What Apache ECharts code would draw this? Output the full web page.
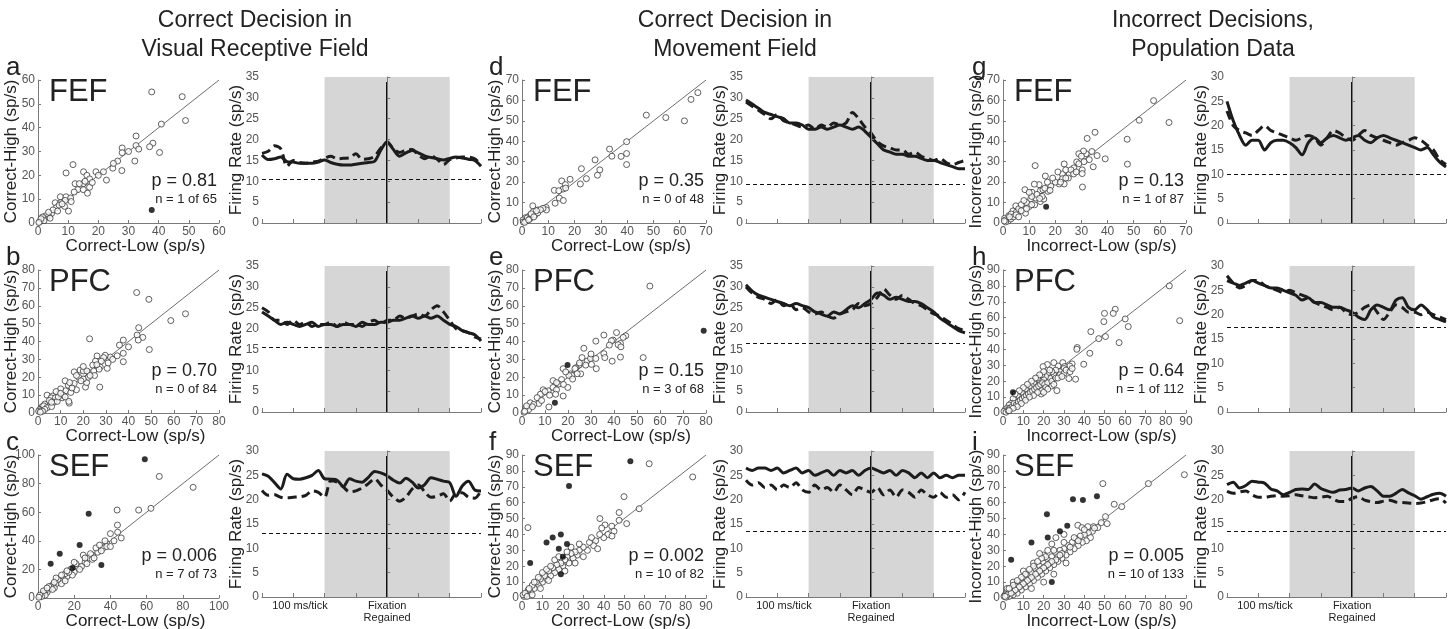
<!DOCTYPE html>
<html>
<head>
<meta charset="utf-8">
<script src="https://cdn.jsdelivr.net/npm/echarts@6/dist/echarts.min.js"></script>
<style>
  html, body { margin: 0; padding: 0; background: #fff; }
  #chart { width: 1455px; height: 629px; }
</style>
</head>
<body>
<div id="chart"></div>
<script>
// ---- data ----
const panelLetters = ['a', 'b', 'c', 'd', 'e', 'f', 'g', 'h', 'i'];
const regions = ['FEF', 'PFC', 'SEF', 'FEF', 'PFC', 'SEF', 'FEF', 'PFC', 'SEF'];
const columnTitles = [
  ['Correct Decision in', 'Visual Receptive Field'],
  ['Correct Decision in', 'Movement Field'],
  ['Incorrect Decisions,', 'Population Data']
];
const xNames = ['Correct-Low (sp/s)', 'Correct-Low (sp/s)', 'Incorrect-Low (sp/s)'];
const yNames = ['Correct-High (sp/s)', 'Correct-High (sp/s)', 'Incorrect-High (sp/s)'];
const pLabels = ['p = 0.81', 'p = 0.70', 'p = 0.006', 'p = 0.35', 'p = 0.15', 'p = 0.002', 'p = 0.13', 'p = 0.64', 'p = 0.005'];
const nLabels = ['n = 1 of 65', 'n = 0 of 84', 'n = 7 of 73', 'n = 0 of 48', 'n = 3 of 68', 'n = 10 of 82', 'n = 1 of 87', 'n = 1 of 112', 'n = 10 of 133'];
const scatterMax = [60, 80, 100, 70, 80, 90, 70, 90, 90];
const scatterStep = [10, 10, 20, 10, 10, 10, 10, 10, 10];
const rateMax = [35, 35, 30, 35, 35, 30, 30, 30, 30];
const baselines = [10.5, 15.5, 13, 9.3, 16.5, 13.5, 10, 17.5, 13.5];
const significant = [false, false, true, false, false, true, false, false, true];

const aOpen = [[37.7,55],[47.8,53],[48.9,43],[40.9,41.5],[32.5,36.5],[38.1,33.5],[37,32],[40.3,29.6],[32.5,32.5],[33.4,31],[27.9,31.5],[27.9,29.5],[30,30],[26.4,26],[32.1,26],[24.8,23],[27.8,22],[21.7,21.5],[19.2,21.5],[22.7,18],[15.1,21.5],[11.6,24.5],[9.3,21],[16.2,20],[15,16.5],[12.3,16.5],[13.7,16.5],[17.1,18.5],[15.6,17.5],[17.1,15],[13.2,14],[15,14],[16.4,12.5],[7.4,11],[9.3,11],[10.8,10.5],[9,9.5],[5.7,8.5],[7.5,8.5],[10.1,5],[6.1,6.5],[8.8,7],[4.5,4],[5,5.5],[3.5,3],[3,2.5],[2.5,3],[2,2],[1.5,2.5],[1,1],[0.5,0.5],[2,1],[3.5,4.5],[6.5,5],[4,2],[1,1.8],[0.3,0.2],[7,7.5],[8,8],[11,9],[12,13],[18,17],[20,20],[25,25]];
const aFilled = [[37.7,5.5]];
const bOpen = [[43.6,67.4],[49,63.6],[65.2,55.5],[58.7,51.7],[44.5,47.7],[43.8,43.6],[46.3,42.3],[44.3,40.8],[49.2,35.5],[37.7,40.8],[22.8,41.5],[37.7,33.4],[37.7,28.7],[32,31.3],[29.7,32.3],[26.1,31.9],[29,31],[25.4,29],[24.2,26.8],[27.5,25.7],[18.6,24],[16,23],[20,23.5],[22.7,22.5],[21.6,23.5],[27,24.5],[30.6,25],[24.6,23.5],[16,16.5],[21,14.5],[21.5,17],[22.3,20],[27.3,14.5],[13.4,15.5],[12.2,12.4],[14.5,11.5],[10,13.5],[13.8,5.5],[13.6,6.5],[9.2,11],[6.5,9.5],[4,10],[5.8,8.5],[7.7,8.5],[10.7,8.5],[7,6],[4.8,5.5],[3,5],[1.8,3.5],[0.8,2],[0.3,1],[2.5,4],[4,3],[6,3.6],[8.5,6.5],[1.3,1.3],[18,20],[20,19],[12,18],[8,12],[5,7],[25,21],[17,13],[19,18],[15,14],[11,10],[9,9],[6,6],[3,2],[2,1],[1,0.5],[14,17],[23,21],[26,27],[28,29],[31,28],[33,30],[35,32],[36,38],[40,37],[20,26],[17,21],[12,9],[10,11]];
const bFilled = [];
const cOpen = [[43.7,61.5],[43.9,51],[55.6,61.5],[62.4,62.7],[67,85],[85.7,77.4],[40,45],[42,40],[38,38],[36,35],[33,32],[30,30],[28,28],[26,25],[25,30],[22,22],[20,18],[18,20],[16,15],[15,17],[14,13],[12,12],[10,10],[8,9],[6,6],[5,4],[4,5],[3,3],[2,2],[1,1],[35,33],[38,36],[30,27],[27,24],[24,22],[21,24],[19,16],[17,18],[13,10],[11,13],[9,7],[7,8],[44,46],[46,42],[32,35],[29,31],[23,20],[20,25],[15,12],[10,14],[9,11],[6,8],[4,2],[3,5],[2,1],[1,2],[40,36],[37,40],[31,28],[34,37],[26,28],[16,19],[13,16],[8,6],[5,7],[0.5,0.5]];
const cFilled = [[59,97],[28,59],[7,24],[12,31],[19,21],[23,37],[35,23]];
const dOpen = [[66.9,63.8],[64.3,60.5],[61.8,50],[54.7,51.6],[47.3,52.8],[39.8,39.8],[39.8,34],[37.7,32.6],[39.8,28.6],[33.3,36.2],[34.2,32.7],[27.8,30.9],[29.6,26],[28.7,23.4],[22.6,26.6],[24.5,21.7],[22.2,19.1],[18.3,21.4],[15.1,20.6],[16.5,18.8],[15.6,16.6],[16.6,17.1],[12.3,16],[14,15.8],[14.2,12.2],[15.7,11],[12.6,9.7],[9.2,7.6],[9.3,6.4],[8,7.2],[6.1,6.4],[4.3,5.6],[4.1,8.4],[2.9,3.6],[1.3,2.6],[0.4,1.5],[0.5,0.5],[1.5,1],[2,2.5],[3,2],[5,4],[6,5],[3.5,4.5],[1,0.3],[2.5,1.5],[4.5,3],[7,6.5],[5.5,6]];
const dFilled = [];
const eOpen = [[55.6,71],[52.7,31],[45.1,43.2],[41.1,45],[39.6,40.8],[42.8,38.9],[44,42.3],[41.8,38.2],[43,37],[35.6,43.6],[38.9,40.4],[35.6,33.2],[39.2,29],[42.8,31.3],[32.1,40.2],[26.9,36.2],[26.1,31],[28.3,29],[29.8,30.5],[32.1,30.5],[30.2,27.2],[27.7,26.8],[24.8,26.8],[23.4,25.3],[17.9,24.8],[21.1,21.9],[23,24.8],[25.5,21.9],[32.3,24.8],[21.8,21],[17.2,18.7],[20.4,21],[16,16.2],[13.5,18.1],[13.5,14.3],[15,13],[11.4,12.4],[9.2,13],[8,10.5],[6.6,8.6],[3.6,5.7],[1.7,2.9],[0.9,0.4],[7.3,5.3],[11.7,3.4],[14.6,10.5],[17.9,9.5],[19.9,14.3],[2.9,1.9],[5.1,4.8],[1.2,1],[10,12],[12,10],[8.5,7],[4.5,3.5],[2,4],[18,16],[22,19],[25,28],[30,33],[36,31],[38,38],[24,22],[15,17],[19,23]];
const eFilled = [[79,46],[19.8,26.8],[14.3,5.7]];
const fOpen = [[62.2,84.5],[83.5,76.2],[49.9,63.8],[57.3,56.2],[38.1,50],[40.6,46],[43.9,45.2],[47.5,48.9],[47.5,53.8],[51.2,46.8],[2.9,44.3],[45,42],[42,40],[40,38],[38,40],[36,36],[35,33],[33,35],[32,30],[30,32],[28,30],[27,27],[26,29],[25,25],[24,28],[23,22],[22,26],[21,24],[20,20],[19,22],[18,18],[17,21],[16,16],[15,19],[14,14],[13,17],[12,12],[11,14],[10,10],[9,12],[8,8],[7,10],[6,6],[5,8],[4,4],[3,5],[2,2],[1,1],[0.5,2],[1.5,3],[2.5,1],[3.5,6],[6,10],[8,13],[10,16],[12,18],[14,20],[16,24],[18,26],[22,29],[24,32],[26,22],[28,34],[30,26],[34,38],[37,31],[39,44],[44,39],[21,17],[13,11],[9,6],[5,2]];
const fFilled = [[53,86],[23,70.5],[4,22],[12,35],[15,38],[19,40],[18,31],[20,26],[19,15],[22,34]];
const gOpen = [[57.6,59.9],[63.5,49.2],[52.1,50.3],[47.5,41],[47.6,28.8],[39.1,31.4],[35.2,44.4],[32.2,41.4],[31.8,33.9],[30.8,35.2],[29,33.9],[30,32.7],[28.2,29.9],[34.5,27.5],[30.3,26],[30.3,24.2],[30.4,17.6],[27.1,27],[25.3,24],[23.4,28.9],[22.7,24],[22.7,21.7],[23.4,19.1],[21.5,19.1],[18.3,18.1],[16.2,23],[12.3,28.1],[13.8,18.8],[8.4,16.3],[11.1,15],[14.3,15.8],[15.3,16.3],[17.2,15.5],[10.6,11.8],[12.5,12.2],[14.3,10.5],[15.6,11.7],[12.1,8.9],[10.1,8.1],[8.6,4.8],[4.9,8.4],[3.8,5.9],[5.1,5.3],[2.2,3.6],[3.1,4.4],[0.6,2.3],[6,7],[7,9],[9,10],[11,13],[13,14],[10,15],[8,11],[12,19],[15,13],[17,20],[20,20],[19,22],[24,26],[26,26],[21,25],[2,1],[1,1.5],[3,2],[4,3],[5,4],[1,0.5],[0.5,1],[2.5,3],[6,3],[7,6],[9,7],[11,9],[14,12],[16,17],[18,16],[25,22],[27,24],[33,31],[34,35],[36,33],[29,29],[31,30],[28,25],[24,22],[22,20]];
const gFilled = [[16.5,7.9]];
const hOpen = [[81.8,80],[86.9,58.1],[60.1,59.2],[61.6,54.4],[57.1,44.3],[55.2,65.3],[54.2,62.7],[49.9,62.7],[49.6,57.5],[50.4,48.1],[47.1,46.8],[43.2,51.2],[42.7,37.6],[39.7,30.7],[36.5,41.2],[36.3,40.1],[34,30.9],[29.4,31.7],[27.1,29.6],[25,31.7],[21.8,30.5],[19.7,29.2],[32.8,29.6],[30.2,29.2],[32.4,21.7],[35.7,21.3],[26.5,14.1],[18.8,12],[12.8,15.9],[30,28],[28,26],[26,27],[25,24],[24,26],[23,22],[22,25],[21,23],[20,21],[19,24],[18,20],[17,22],[16,18],[15,19],[14,17],[13,16],[12,14],[11,15],[10,12],[9,13],[8,10],[7,11],[6,8],[5,9],[4,6],[3,5],[2,3],[1,2],[0.5,1],[1.5,0.5],[2.5,1.5],[3.5,3],[4.5,4],[5.5,6],[6.5,5],[7.5,7],[8.5,8],[9.5,9],[10.5,10],[11.5,11],[12.5,12],[13.5,13],[14.5,14],[15.5,15],[16.5,16],[17.5,17],[18.5,18],[19.5,19],[20.5,18],[22,19],[24,20],[26,22],[28,24],[30,25],[31,27],[33,26],[34,28],[23,27],[20,26],[18,24],[16,22],[14,20],[12,18],[10,16],[8,14],[6,12],[21,16],[19,14],[17,13],[15,11],[13,10],[11,8],[9,6],[7,4],[5,3],[3,1.5],[27,22],[29,23],[24,17],[22,15],[25,18],[20,13]];
const hFilled = [[4.9,13]];
const iOpen = [[49.1,72],[54.7,59],[58.4,57.5],[71.5,72],[89.2,77.6],[50.4,51.2],[48.3,47.4],[51.2,46.8],[36.8,45.8],[38.8,44.3],[41.7,44.9],[44.5,44.9],[46.6,44.3],[44,42],[42,41],[40,40],[38,39],[36,37],[34,35],[32,33],[30,31],[28,30],[26,28],[24,26],[22,24],[20,22],[18,20],[16,18],[14,16],[12,14],[10,12],[8,10],[6,8],[4,6],[2,4],[1,2],[0.5,1],[43,38],[41,36],[39,35],[37,33],[35,31],[33,29],[31,27],[29,25],[27,23],[25,21],[23,19],[21,17],[19,15],[17,13],[15,11],[13,9],[11,7],[9,5],[7,3],[5,2],[3,1],[1.5,0.5],[45,44],[40,43],[35,38],[30,35],[25,30],[20,27],[15,22],[10,17],[5,10],[2,6],[37,36],[33,32],[29,28],[27,26],[23,22],[21,20],[19,18],[17,16],[13,12],[11,10],[9,8],[7,6],[5,4],[3,3],[2,2],[1,1],[28,27],[26,24],[24,23],[22,21],[20,19],[18,17],[16,15],[14,13],[12,11],[10,9],[8,7],[6,5],[4,3],[21,26],[19,25],[17,23],[15,20],[13,18],[11,15],[9,13],[7,11],[5,8],[3,6],[22,30],[18,28],[24,34],[26,38],[30,40],[14,6],[20,10],[25,15],[31,22]];
const iFilled = [[21.6,52.7],[31.6,45.4],[34.4,62.1],[39.3,61.7],[46.2,64],[4,24],[24,10],[22,38],[14,35],[28,42]];

// time axis of the firing-rate panels, ms relative to fixation regained
const tMs = [-400,-380,-360,-340,-320,-300,-280,-260,-240,-220,-200,-180,-160,-140,-120,-100,-80,-60,-40,-20,0,20,40,60,80,100,120,140,160,180,200,220,240,260,280,300];
const aSolid  = [16.3,15.2,15.4,15.8,14.7,14.6,14.3,14.3,14.3,14.6,15.1,14.5,14.1,13.9,13.9,14.1,14.3,14.5,14.8,17.5,19.5,17.6,16,16.8,17.4,16.8,16.1,15.7,15.4,15.1,15.5,15.8,15.6,15.3,15,13.6];
const aDashed = [16.7,17.2,18.5,17.8,13.6,15,14.5,14.3,14.6,14.8,15.5,16,15.4,15.5,15.6,16.6,15.3,15.4,16,18,19.3,17.8,16.9,17.5,17.6,16.3,15.4,16.1,15.3,14,15.2,15.6,15.8,15.8,15.4,14];
const bSolid  = [24,23,22,21,21.5,21,20.5,21,21.5,20.5,21,21,20.5,21,21,20.5,21.5,21,21,21.5,21.5,22,22,22.5,23,22.5,23,22.5,23,22,21,20.5,19.5,19,18.5,17];
const bDashed = [25,24,22,22,21,22,21,21.5,20.5,21,21,21.5,20.5,21.5,21,21,20.5,21.5,22,21,22,22,23,22.5,23,23.5,23,24.5,25.5,24,22,20,19.5,19,18,17.5];
const cSolid  = [25.3,24.8,23.5,22.2,25.2,24.3,24.2,24.5,25,26,24.3,24.2,24,22.7,24.3,23.8,23.6,24.6,25.8,25.5,24.9,24,23.4,24.4,23.6,22.4,23.1,24.5,24.2,23.8,23.5,20.7,22.8,23.8,22,21.8];
const cDashed = [21.9,20.9,21,20.5,20.4,20.5,20.6,20.9,21.8,21.5,20.5,23.9,23.6,22.6,21.6,21.8,22.4,23.3,24.3,23,21.9,20.5,19.7,20.5,22.2,23,21.6,20.5,20.7,21.2,19.7,21.3,21.4,20.5,20.3,21.8];
const dSolid  = [29.5,28.5,27.5,26.5,26,25.5,25,24,24,23.5,22.5,22.5,23,22.5,23,23.5,23,22.5,23,22,20.5,19,17.5,17,16.5,16.5,16,16,15.5,15,15,14.5,14,13.5,13,13];
const dDashed = [29,28,27,26,25,26,24.5,24,23.5,23,23.5,22.5,23.5,23,24,23.5,24,26.5,25,23,21.5,19.5,18.5,18,17.5,17.5,16.5,17,16,15.5,15,15.5,14.5,14,14.5,15];
const eSolid  = [30.5,29,28,27.5,27,26.5,26,25.5,26,25.5,25,24,23.5,23,24,23.5,24.5,25.5,25,26,27,28.5,28,27,27.5,27,26.5,26.5,26,25,24,22.5,21.5,20.5,19.5,19];
const eDashed = [30,28.5,27.5,27,26,27,25.5,26,24.5,25,24,23.5,24,23,22.5,23.5,24,24.5,26,25.5,26,27.5,29.5,28,27,28,27,26,25.5,24.5,23.5,23,22,21,20,19.5];
const fSolid  = [26.5,26,26.5,26.5,26,26.5,25.5,26,26.5,25.5,26,25,25.5,26,25,26,25.5,26,25,26,26.5,26,25.5,26,25,26,25.5,24.5,25.5,24.5,25.5,24.5,25,24.5,25,25];
const fDashed = [24,23,23.5,22.5,23,22,23,22.5,23.5,22,21.5,23,22,22.5,21.5,23,22,21,22.5,22,21.5,22.5,21,22,20.5,22,21.5,20.5,22,21,20.5,21.5,20.5,21,20,21.5];
const gSolid  = [25,21,18,16,17,17,15,16.5,17,17,16.5,15.5,14,16.5,17.5,16.5,17.5,18,17.5,17,17.5,18,17,16.5,17.5,18,17.5,17,16.5,16,15.5,15,15.5,14,12.5,11.5];
const gDashed = [23,20,19,18.5,18,19,20,19,18.5,18,17.5,17,17.5,18,17.5,16,17.5,19,18.5,17.5,17,18,19,18,17.5,17,16.5,16,16.5,17,17.5,17,16,15,13,12];
const hSolid  = [27,26.5,26,26.5,27,26.5,26,25.5,25.5,25,24.5,24,23,23.5,22.5,22.5,22,21.5,21.5,21,20.5,19.5,19,21,22,21.5,21,23,23.5,21.5,21,22,21,19.5,19,18.5];
const hDashed = [28,26.5,25.5,26,27,27,26,25.5,25,24.5,25,24.5,24,23.5,22.5,22,21.5,21,21.5,20.5,20,20.5,21.5,22,20.5,19,20.5,22,21.5,20.5,20.5,20,20.5,20,19.5,19];
const iSolid  = [23.1,23.6,22.4,22.9,23.8,23.6,23.4,22.2,21.8,21,21.5,22.1,22.2,22.1,23.2,22.3,21.8,21.5,22,22.1,22.4,21.8,22.4,22.7,21.8,20.7,20.7,21.3,22.1,21.4,20.8,20.1,20.6,21.1,21.3,20.7];
const iDashed = [21.7,21.3,21.6,21.8,21,20.5,20.5,20.7,20.8,20.7,20.8,21,20.8,20.6,20.4,20.5,20.7,20.1,19.6,19.6,20.3,20.6,19.9,19.6,19.4,19.7,19.9,19.5,19.4,19.3,19.2,19.3,19.6,20,20.2,19.3];

const openPts = [aOpen, bOpen, cOpen, dOpen, eOpen, fOpen, gOpen, hOpen, iOpen];
const filledPts = [aFilled, bFilled, cFilled, dFilled, eFilled, fFilled, gFilled, hFilled, iFilled];
const solidRates = [aSolid, bSolid, cSolid, dSolid, eSolid, fSolid, gSolid, hSolid, iSolid];
const dashedRates = [aDashed, bDashed, cDashed, dDashed, eDashed, fDashed, gDashed, hDashed, iDashed];

// ---- layout ----
const FONT = '"Liberation Sans", Arial, sans-serif';
const scatLeft = [38, 522, 1003], scatRight = [219, 706, 1186];
const timeLeft = [262, 746, 1227], timeRight = [481, 965, 1446];
const scatTop = [80, 270, 455], scatBot = [223, 413, 598];
const timeTop = [77, 266, 451], timeBot = [223, 412, 597];
const colCenter = [255, 735, 1213];
const letterX = [6, 489, 972];

const grids = [], xAxes = [], yAxes = [], series = [], graphics = [];
const axisCommon = {
  axisLine: { lineStyle: { color: '#7a7a7a', width: 1 } },
  axisTick: { inside: true, length: 3, lineStyle: { color: '#7a7a7a' } },
  splitLine: { show: false },
  axisLabel: { fontFamily: FONT, fontSize: 12, color: '#555', margin: 3 }
};
function text(x, y, str, font, align, extra) {
  graphics.push(Object.assign({
    type: 'text', x: x, y: y, silent: true,
    style: { text: str, font: font, fill: '#222', align: align || 'left', verticalAlign: 'middle' }
  }, extra || {}));
}
const pairs = (xs, ys) => xs.map((t, i) => [t, ys[i]]);

columnTitles.forEach((t, c) => {
  text(colCenter[c], 21, t[0], '23px ' + FONT, 'center');
  text(colCenter[c], 50, t[1], '23px ' + FONT, 'center');
});

for (let k = 0; k < 9; k++) {
  const c = Math.floor(k / 3), r = k % 3;
  const m = scatterMax[k], st = scatterStep[k];
  // scatter panel
  const gs = grids.length;
  grids.push({ left: scatLeft[c], top: scatTop[r], width: scatRight[c] - scatLeft[c], height: scatBot[r] - scatTop[r] });
  xAxes.push(Object.assign({}, axisCommon, { type: 'value', gridIndex: gs, min: 0, max: m, interval: st }));
  yAxes.push(Object.assign({}, axisCommon, { type: 'value', gridIndex: gs, min: 0, max: m, interval: st }));
  series.push({ type: 'line', xAxisIndex: gs, yAxisIndex: gs, data: [[0, 0], [m, m]], symbol: 'none', silent: true,
    lineStyle: { color: '#6e6e6e', width: 1 }, z: 1 });
  series.push({ type: 'scatter', xAxisIndex: gs, yAxisIndex: gs, data: openPts[k], symbol: 'circle', symbolSize: 6,
    itemStyle: { color: '#fff', borderColor: '#3a3a3a', borderWidth: 1 }, z: 2 });
  series.push({ type: 'scatter', xAxisIndex: gs, yAxisIndex: gs, data: filledPts[k], symbol: 'circle', symbolSize: 6,
    itemStyle: { color: '#000' }, clip: false, z: 3 });

  // firing rate panel
  const gt = grids.length;
  const ym = rateMax[k];
  grids.push({ left: timeLeft[c], top: timeTop[r], width: timeRight[c] - timeLeft[c], height: timeBot[r] - timeTop[r] });
  xAxes.push(Object.assign({}, axisCommon, { type: 'value', gridIndex: gt, min: -400, max: 300, interval: 100, z: 5,
    axisLabel: { show: false }, axisTick: { inside: true, length: 4, lineStyle: { color: '#7a7a7a' } } }));
  yAxes.push(Object.assign({}, axisCommon, { type: 'value', gridIndex: gt, min: 0, max: ym, interval: 5, z: 5 }));
  series.push({ type: 'line', xAxisIndex: gt, yAxisIndex: gt, data: pairs(tMs, solidRates[k]), symbol: 'none', silent: true,
    lineStyle: { opacity: 0 }, z: 1,
    markArea: { silent: true, itemStyle: { color: '#d6d6d6' }, data: [[{ xAxis: -200 }, { xAxis: 200 }]] },
    markLine: { silent: true, symbol: 'none', label: { show: false },
      data: [
        { yAxis: baselines[k], lineStyle: { color: '#111', width: 1, type: [4, 3] } },
        [{ coord: [0, 0], lineStyle: { color: '#111', width: 2, type: 'solid' } }, { coord: [0, ym * 0.965] }]
      ] } });
  series.push({ type: 'line', xAxisIndex: gt, yAxisIndex: gt, data: pairs(tMs, dashedRates[k]), symbol: 'none', smooth: 0.3,
    lineStyle: { color: '#1c1c1c', width: 3, type: [9, 5] }, z: 3 });
  series.push({ type: 'line', xAxisIndex: gt, yAxisIndex: gt, data: pairs(tMs, solidRates[k]), symbol: 'none', smooth: 0.3,
    lineStyle: { color: '#1c1c1c', width: 3 }, z: 4 });

  // texts
  text(letterX[c], scatTop[r] - 12, panelLetters[k], '26px ' + FONT, 'left');
  text(scatLeft[c] + 11, scatTop[r] + 12, regions[k], '31px ' + FONT, 'left');
  text(scatRight[c] - 2, scatBot[r] - 42, pLabels[k], '18px ' + FONT, 'right');
  text(scatRight[c] - 2, scatBot[r] - 24, nLabels[k], '13px ' + FONT, 'right');
  text((scatLeft[c] + scatRight[c]) / 2 + 7, scatBot[r] + 23, xNames[c], '17px ' + FONT, 'center');
  text(scatLeft[c] - 27, (scatTop[r] + scatBot[r]) / 2, yNames[c], '17px ' + FONT, 'center', { rotation: Math.PI / 2 });
  text(timeLeft[c] - 26, (timeTop[r] + timeBot[r]) / 2, 'Firing Rate (sp/s)', '17px ' + FONT, 'center', { rotation: Math.PI / 2 });
  if (r === 2) {
    const zeroX = timeLeft[c] + (timeRight[c] - timeLeft[c]) * 4 / 7;
    text(timeLeft[c] + 38, timeBot[r] + 9, '100 ms/tick', '11px ' + FONT, 'center');
    text(zeroX, timeBot[r] + 9, 'Fixation', '11px ' + FONT, 'center');
    text(zeroX, timeBot[r] + 21, 'Regained', '11px ' + FONT, 'center');
  }
  if (significant[k]) {
    const zeroX = timeLeft[c] + (timeRight[c] - timeLeft[c]) * 4 / 7;
    text(zeroX + 19, timeBot[r] - 18, '*', 'bold 32px ' + FONT, 'center');
  }
}

const chart = echarts.init(document.getElementById('chart'), null, { renderer: 'canvas' });
chart.setOption({
  backgroundColor: '#fff',
  animation: false,
  grid: grids,
  xAxis: xAxes,
  yAxis: yAxes,
  series: series,
  graphic: graphics
});
</script>
</body>
</html>
